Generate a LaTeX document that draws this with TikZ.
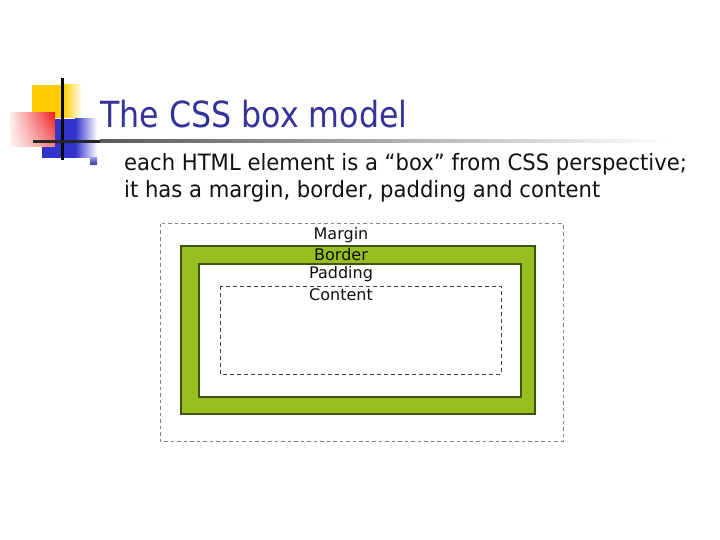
\documentclass[tikz,border=0pt]{standalone}
\usepackage{fontspec}
\setmainfont{DejaVu Sans}
\newfontfamily\slidefont[FakeStretch=0.88]{DejaVu Sans}
\newfontfamily\bodyfont[FakeStretch=0.94]{DejaVu Sans}
\usepackage{xcolor}
\usepackage{tikz}
\usetikzlibrary{fadings}
\definecolor{cssTitle}{RGB}{51,51,153}
\definecolor{cssBlue}{RGB}{51,51,204}
\definecolor{cssYellow}{RGB}{255,204,0}
\definecolor{cssRed}{RGB}{240,30,30}
\definecolor{cssGreen}{RGB}{152,191,33}
\definecolor{cssOlive}{RGB}{64,84,16}
\definecolor{csstext}{RGB}{17,17,17}
\definecolor{cssgray}{RGB}{130,130,130}

\begin{document}
\begin{tikzpicture}[x=1pt,y=-1pt]
\useasboundingbox (0,0) rectangle (720,540);
% corner ornament
\fill[cssYellow] (32,85) rectangle (63,118);
\shade[left color=cssYellow, right color=white] (63,85) rectangle (82,118);
\fill[cssBlue] (42,119) rectangle (75,158);
\shade[left color=cssBlue, right color=white] (75,119) rectangle (97,158);
\shade[left color=cssRed!8, right color=cssRed] (10,113) rectangle (55,147);
\fill[white, path fading=north, opacity=0.45] (10,113) rectangle (55,147);
\fill[black] (61,78) rectangle (64,160);
\fill[black!85] (33,140) rectangle (100,143);
\shade[left color=black!65, right color=white] (100,140) rectangle (670,143);
% title and bullet
\node[anchor=base west, inner sep=0pt, text=cssTitle, font=\slidefont\fontsize{36}{40}\selectfont] (title) at (100,128) {The CSS box model};
\shade[top color=cssBlue!55, bottom color=cssTitle] (90,158) rectangle (97,165);
\node[anchor=base west, inner sep=0pt, text=csstext, font=\bodyfont\fontsize{22.5}{27}\selectfont] (line1) at (124,171) {each HTML element is a “box” from CSS perspective;};
\node[anchor=base west, inner sep=0pt, text=csstext, font=\bodyfont\fontsize{22.5}{27}\selectfont] (line2) at (124,198) {it has a margin, border, padding and content};
% box model
\draw[cssgray, line width=1pt, dash pattern=on 3.5pt off 3pt] (160,224) rectangle (563,441);
\filldraw[fill=cssGreen, draw=cssOlive, line width=1.2pt] (181,246) rectangle (535,414);
\filldraw[fill=white, draw=cssOlive, line width=1.2pt] (199,264) rectangle (521,397);
\draw[black!75, line width=0.9pt, dash pattern=on 4pt off 3pt] (220,286) rectangle (501,374);
\node[anchor=base, inner sep=0pt, text=csstext, font=\fontsize{16}{18}\selectfont] (margin) at (341,240) {Margin};
\node[anchor=base, inner sep=0pt, text=black!85!cssOlive, font=\fontsize{16}{18}\selectfont] (border) at (341,260) {Border};
\node[anchor=base, inner sep=0pt, text=csstext, font=\fontsize{16}{18}\selectfont] (padding) at (341,278) {Padding};
\node[anchor=base, inner sep=0pt, text=csstext, font=\fontsize{16}{18}\selectfont] (content) at (341,300) {Content};
\end{tikzpicture}
\end{document}
